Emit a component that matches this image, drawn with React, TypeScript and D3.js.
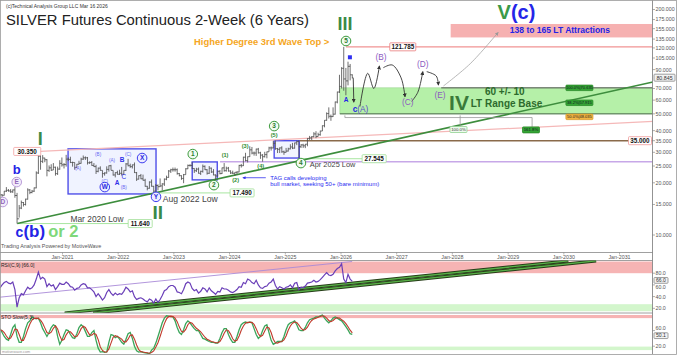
import React from "react";
import * as d3 from "d3";

// ---------------- data ----------------
const seriesStart = new Date(2019, 10, 18); // first 2-week bar
const firstOpen = 17.1;

const barHigh = [
  17.25, 17.2, 17.95, 18.9, 18.4, 18.4, 18.3, 18.9, 17.5, 14.9,
  15.8, 15.5, 16.2, 18.6, 18.4, 18.2, 18.8, 23.3, 30.35, 28.9,
  28.9, 27.9, 27.4, 25.2, 25.6, 26.0, 24.8, 24.8, 27.0, 28.0,
  26.0, 29.0, 28.0, 28.3, 26.5, 26.2, 25.7, 26.8, 27.9, 28.75,
  28.4, 28.2, 26.6, 26.7, 26.0, 25.4, 24.5, 24.9, 23.6, 23.0,
  24.9, 25.2, 25.4, 23.6, 23.0, 23.5, 23.8, 24.7, 23.6, 26.0,
  27.5, 25.8, 25.5, 26.2, 23.1, 22.1, 22.5, 22.3, 21.1, 19.2,
  20.4, 20.9, 19.2, 19.7, 19.6, 21.2, 19.9, 21.2, 22.0, 23.7,
  24.1, 24.5, 24.5, 24.2, 22.8, 22.1, 22.5, 24.3, 25.5, 25.6,
  26.4, 24.3, 24.4, 24.5, 23.5, 25.5, 25.2, 24.0, 25.0, 24.5,
  24.0, 22.4, 23.6, 23.7, 24.5, 26.0, 24.8, 24.7, 23.6, 23.5,
  23.0, 23.3, 25.4, 25.7, 28.3, 29.8, 28.4, 32.5, 32.2, 30.3,
  31.5, 31.8, 30.2, 29.3, 30.2, 30.3, 32.3, 32.4, 34.9, 35.1,
  31.8, 32.0, 32.5, 30.7, 31.8, 31.9, 33.4, 34.0, 34.1, 35.1,
  35.2, 33.4, 33.6, 33.5, 36.2, 37.3, 37.2, 39.2, 39.7, 38.9,
  40.0, 42.9, 46.0, 51.0, 54.5, 49.5, 54.5, 58.9, 67.2, 84.0,
  93.0, 121.785, 92.0, 100.0, 97.0, 84.5,
];
const barLow = [
  16.85, 16.6, 16.9, 17.7, 17.8, 17.5, 17.5, 16.4, 11.64, 12.6,
  14.1, 14.6, 14.8, 16.0, 17.2, 17.4, 17.7, 18.6, 22.5, 23.8,
  26.0, 26.3, 21.8, 23.1, 23.4, 23.7, 22.0, 22.2, 23.8, 24.8,
  24.2, 24.8, 26.7, 26.0, 24.8, 23.8, 24.4, 25.5, 25.8, 27.1,
  27.1, 25.5, 25.7, 25.1, 24.7, 22.5, 23.0, 23.5, 21.4, 22.0,
  22.6, 23.2, 23.6, 22.0, 21.5, 22.3, 22.2, 22.0, 22.2, 23.4,
  24.9, 24.4, 24.2, 22.8, 20.5, 20.9, 21.0, 20.6, 19.0, 18.1,
  18.5, 19.0, 17.49, 17.7, 18.1, 18.9, 18.1, 19.2, 20.7, 21.4,
  22.8, 23.2, 23.2, 22.3, 21.8, 20.8, 19.9, 22.3, 24.0, 24.8,
  24.0, 22.8, 23.1, 22.6, 22.2, 22.9, 23.7, 22.3, 22.5, 22.8,
  22.1, 20.7, 21.7, 22.4, 22.5, 23.2, 23.2, 23.2, 22.5, 22.5,
  21.9, 22.4, 23.0, 24.5, 25.0, 26.6, 26.2, 28.2, 29.2, 28.7,
  28.6, 29.5, 27.5, 26.5, 28.0, 27.7, 30.2, 30.7, 31.6, 31.0,
  29.7, 29.7, 29.8, 29.0, 29.9, 30.3, 31.2, 31.3, 31.5, 33.0,
  27.545, 31.8, 31.8, 31.7, 32.5, 35.4, 35.3, 36.6, 36.2, 37.0,
  37.4, 39.8, 41.8, 45.6, 47.0, 45.6, 48.0, 49.5, 57.5, 66.0,
  70.0, 68.0, 64.0, 73.0, 78.0, 80.0,
];
const barClose = [
  17.05, 16.95, 17.9, 18.1, 17.95, 17.75, 18.2, 16.9, 12.4, 14.3,
  15.4, 15.0, 16.1, 18.2, 17.6, 17.9, 18.7, 22.8, 28.5, 26.6,
  27.8, 27.2, 23.6, 24.4, 23.7, 24.6, 22.6, 24.0, 25.9, 25.4,
  25.5, 27.4, 27.3, 26.2, 26.2, 24.5, 25.6, 25.9, 27.4, 27.9,
  27.9, 26.1, 26.2, 25.2, 24.8, 23.3, 24.3, 23.6, 22.6, 22.8,
  23.9, 25.1, 23.6, 22.2, 22.9, 22.4, 22.7, 22.4, 23.6, 25.7,
  25.1, 24.8, 25.4, 22.9, 21.0, 22.0, 21.1, 20.7, 19.1, 18.6,
  20.2, 19.1, 17.9, 19.3, 19.0, 19.2, 19.7, 21.0, 21.5, 23.4,
  23.8, 23.8, 23.8, 22.6, 22.0, 21.2, 22.3, 24.1, 25.2, 25.2,
  24.2, 23.5, 24.0, 22.7, 23.3, 24.9, 23.8, 22.7, 24.3, 23.1,
  22.2, 21.9, 23.3, 22.6, 24.4, 23.5, 24.3, 23.4, 22.8, 22.7,
  23.0, 23.1, 25.2, 25.1, 28.1, 26.9, 28.3, 31.0, 29.7, 29.7,
  31.3, 29.8, 28.9, 28.3, 29.1, 30.2, 31.8, 31.8, 33.8, 31.5,
  31.2, 31.8, 30.2, 30.0, 30.5, 31.4, 32.2, 31.7, 34.0, 34.6,
  32.3, 33.1, 32.7, 33.4, 36.0, 36.3, 36.9, 38.3, 37.0, 37.9,
  39.8, 42.7, 45.9, 50.2, 48.4, 48.2, 49.8, 58.5, 66.8, 72.0,
  91.5, 79.5, 77.5, 94.0, 84.0, 80.845,
];
const rsiValues = [
  55, 60, 64, 66, 63, 62, 65, 52, 22, 38,
  45, 43, 50, 56, 53, 55, 60, 70, 82, 70,
  73, 70, 57, 62, 58, 60, 52, 57, 63, 61,
  61, 65, 62, 57, 56, 51, 54, 55, 60, 62,
  61, 55, 55, 52, 48, 40, 45, 40, 34, 38,
  47, 52, 46, 42, 46, 43, 45, 44, 49, 56,
  53, 48, 50, 40, 35, 37, 38, 36, 33, 31,
  36, 34, 29, 36, 30, 35, 42, 50, 52, 57,
  59, 59, 56, 48, 47, 45, 52, 62, 65, 63,
  54, 50, 52, 46, 49, 55, 53, 48, 55, 50,
  47, 44, 49, 48, 55, 53, 53, 51, 48, 47,
  49, 52, 57, 56, 64, 62, 70, 68, 64, 62,
  68, 60, 55, 54, 57, 58, 63, 65, 70, 59,
  53, 57, 55, 53, 56, 57, 60, 55, 63, 64,
  52, 56, 55, 58, 63, 64, 65, 68, 65, 66,
  69, 73, 77, 81, 77, 76, 78, 84, 88, 90,
  96, 70, 64, 78, 70, 66,
];
const stoK = [
  65, 55, 45, 38, 35, 50, 68, 75, 45, 30,
  30, 45, 65, 80, 85, 95, 92, 90, 92, 80,
  65, 55, 45, 55, 68, 75, 72, 45, 25, 35,
  50, 62, 60, 50, 42, 40, 52, 68, 75, 70,
  58, 45, 45, 55, 60, 35, 15, 5, 6, 4,
  5, 30, 50, 48, 42, 45, 38, 30, 25, 38,
  52, 55, 40, 20, 8, 5, 6, 4, 3, 2,
  0, 10, 15, 28, 45, 62, 80, 92, 98, 97,
  96, 95, 85, 68, 55, 50, 62, 78, 85, 80,
  72, 65, 60, 60, 50, 40, 38, 35, 32, 30,
  30, 28, 28, 40, 55, 65, 65, 50, 38, 30,
  30, 45, 62, 75, 80, 82, 80, 82, 80, 65,
  50, 40, 45, 60, 72, 75, 55, 35, 25, 28,
  32, 32, 32, 45, 62, 75, 80, 82, 85, 75,
  62, 60, 60, 68, 80, 88, 90, 92, 95, 95,
  98, 100, 92, 85, 80, 85, 92, 95, 92, 88,
  85, 78, 70, 62, 52, 50.1,
];
const stoD = [
  62, 60, 55, 46, 39, 41, 51, 64, 63, 50,
  35, 35, 47, 63, 77, 87, 91, 92, 91, 87,
  79, 67, 55, 52, 56, 66, 72, 64, 47, 35,
  37, 49, 57, 57, 51, 44, 45, 53, 65, 71,
  68, 58, 49, 48, 53, 50, 37, 18, 9, 5,
  5, 13, 28, 43, 47, 45, 42, 38, 31, 31,
  38, 48, 49, 38, 23, 11, 6, 5, 4, 3,
  2, 4, 8, 18, 29, 45, 62, 78, 90, 96,
  97, 96, 92, 83, 69, 58, 56, 63, 75, 81,
  79, 72, 66, 62, 57, 50, 43, 38, 35, 32,
  31, 29, 29, 32, 41, 53, 62, 60, 51, 39,
  33, 35, 46, 61, 72, 79, 81, 81, 81, 76,
  65, 52, 45, 48, 59, 69, 67, 55, 38, 29,
  28, 31, 32, 36, 46, 61, 72, 79, 82, 81,
  74, 66, 61, 63, 69, 79, 86, 90, 92, 94,
  96, 98, 97, 92, 86, 83, 86, 91, 93, 92,
  88, 84, 78, 70, 61, 54,
];

const priceTicks = [200, 175, 155, 135, 120, 105, 90, 70, 60, 50, 40, 35, 30, 25, 20, 15, 10];
const yearTicks = [2021, 2022, 2023, 2024, 2025, 2026, 2027, 2028, 2029, 2030, 2031];
const rsiTicks = [80, 60, 40, 20];
const stoTicks = [60, 20];
const lastPrice = 80.845;
const lastRsi = 66.0;
const lastSto = 50.1;

// key levels (decimal year, price)
const keyLows = [
  { label: "11.640", price: 11.64, from: 2020.19, to: 2022.18 },
  { label: "17.490", price: 17.49, from: 2022.67, to: 2024.01 },
  { label: "27.545", price: 27.545, from: 2025.26, to: 2026.38 },
];
const waveBoxes = [
  { from: 2021.1, to: 2022.68, hi: 31.4, lo: 17.25 },
  { from: 2023.33, to: 2023.78, hi: 26.4, lo: 20.8 },
  { from: 2024.8, to: 2025.25, hi: 35.0, lo: 27.8 },
];
const greenTrend = [[2020.19, 11.64], [2031.6, 76.3]];
const pinkTrend = [[2020.6, 30.35], [2031.6, 45.2]];
const rsiTrendPurple = [[2019.88, 39], [2026.2, 100]];
const rsiTrendGreen1 = [[2021.04, 12], [2030.08, 101]];
const rsiTrendGreen2 = [[2021.55, 12], [2030.58, 101]];
const squiggles = [
  [[2026.34, 55.1], [2026.48, 85.7], [2026.59, 70.0], [2026.69, 94.4]],
  [[2026.76, 92.3], [2026.92, 95.7], [2027.08, 80.6], [2027.15, 62.7]],
  [[2027.27, 59.0], [2027.38, 66.6], [2027.47, 87.6]],
  [[2027.54, 87.6], [2027.71, 82.7], [2027.75, 73.4]],
];
const arrowToCA = [[2026.22, 80.4], [2026.23, 58.4]];
const grayPath = [[2027.84, 72.4], [2028.32, 97.3], [2028.82, 147.5]];

const FONT = "'Liberation Sans', Arial, Helvetica, sans-serif";

type Pal = "g" | "b" | "p";
const PAL: Record<Pal, string[]> = {
  g: ["#3d9a3d", "#f1fbf1", "#2e7d32"],
  b: ["#3b3bf0", "#ececff", "#2727e0"],
  p: ["#b89bd8", "#f3ecfa", "#9166bb"],
};

function Circ({ cx, cy, t, c }: { cx: number; cy: number; t: string; c: Pal }) {
  const p = PAL[c];
  return (
    <g>
      <circle cx={cx} cy={cy} r={4.8} fill={p[1]} stroke={p[0]} strokeWidth={1} />
      <text x={cx} y={cy} dy="0.36em" textAnchor="middle" fontSize={6.5} fontWeight="bold" fill={p[2]} fontFamily={FONT}>{t}</text>
    </g>
  );
}

function LBox({ cx, cy, text, stroke, w = 24, fill = "#fff", color = "#111", fs = 6.3, h = 8, bold = true }: any) {
  return (
    <g>
      <rect x={cx - w / 2} y={cy - h / 2} width={w} height={h} fill={fill} stroke={stroke} strokeWidth={0.8} rx={0.8} />
      <text x={cx} y={cy} dy="0.36em" textAnchor="middle" fontSize={fs} fontWeight={bold ? "bold" : "normal"} fill={color} fontFamily={FONT}>{text}</text>
    </g>
  );
}

export default function App() {
  const W = 680, H = 357;
  const AX = 652.5;
  const MAIN_B = 252.5, RSI_T = 260.5, RSI_B = 313, STO_B = 354;

  const x = d3.scaleTime().domain([new Date(2021, 0, 1), new Date(2031, 0, 1)]).range([62.5, 619.5]);
  const y = d3.scaleLog().domain([10, 200]).range([235, 9.5]);
  const yR = d3.scaleLinear().domain([0, 100]).range([320, 261.5]);
  const yS = d3.scaleLinear().domain([0, 100]).range([354, 315]);
  const yd = (v: number) => {
    const yr = Math.floor(v);
    const a = new Date(yr, 0, 1).getTime();
    const b = new Date(yr + 1, 0, 1).getTime();
    return new Date(a + (v - yr) * (b - a));
  };
  const X = (v: number) => x(yd(v));
  const barDates = barClose.map((_, i) => d3.timeDay.offset(seriesStart, 14 * i));
  const bx = (i: number) => x(barDates[i]);

  let barsD = "";
  barClose.forEach((c, i) => {
    const xi = bx(i);
    const o = i === 0 ? firstOpen : barClose[i - 1];
    barsD += `M${xi},${y(barHigh[i])}V${y(barLow[i])}M${xi - 1.1},${y(o)}H${xi}M${xi},${y(c)}H${xi + 1.1}`;
  });

  const pricePt = (p: number[]) => [X(p[0]), y(p[1])] as [number, number];
  const rsiPt = (p: number[]) => [X(p[0]), yR(p[1])] as [number, number];
  const lineStraight = d3.line();
  const lineCurve = d3.line().curve(d3.curveCatmullRom.alpha(0.5));

  const rsiPath = d3.line<number>().x((_, i) => bx(i)).y((v) => yR(v))(rsiValues) || "";
  const kPath = d3.line<number>().x((_, i) => bx(i)).y((v) => yS(v))(stoK) || "";
  const dPath = d3.line<number>().x((_, i) => bx(i)).y((v) => yS(v))(stoD) || "";

  const fmt3 = d3.format(".3f");
  const fmt1 = d3.format(".1f");

  const tx = (yr: number, price: number, content: any, props: any = {}) => (
    <text x={X(yr)} y={y(price)} dy="0.36em" fontFamily={FONT} {...props}>{content}</text>
  );
  const circ = (yr: number, price: number, t: string, c: Pal) => <Circ cx={X(yr)} cy={y(price)} t={t} c={c} />;

  const smallBlue = { fontSize: 4.6, fill: "#6a6af2", textAnchor: "middle" };
  const smallGreen = { fontSize: 5.6, fill: "#2e8b2e", fontWeight: "bold", textAnchor: "middle" };
  const purple = { fontSize: 8.3, fill: "#8c5bbf", textAnchor: "middle" };

  const bandL = X(2025.98);
  const pinkL = X(2027.97);

  const rsiLabelShift: Record<number, number> = { 60: 2.2 };
  const stoLabelShift: Record<number, number> = { 60: -2.2 };

  return (
    <svg width={W} height={H} viewBox={`0 0 ${W} ${H}`} style={{ position: "absolute", left: 0, top: 0, background: "#fff" }}>
      <defs>
        <clipPath id="cMain"><rect x={0} y={0} width={AX} height={MAIN_B} /></clipPath>
        <clipPath id="cRsi"><rect x={0} y={RSI_T} width={AX} height={RSI_B - RSI_T} /></clipPath>
        <clipPath id="cSto"><rect x={0} y={RSI_B} width={AX} height={STO_B - RSI_B} /></clipPath>
        <marker id="ahK" viewBox="0 0 6 6" refX="5" refY="3" markerWidth="4.5" markerHeight="4.5" orient="auto">
          <path d="M0,0L6,3L0,6z" fill="#333" />
        </marker>
        <marker id="ahG" viewBox="0 0 6 6" refX="5" refY="3" markerWidth="4.5" markerHeight="4.5" orient="auto">
          <path d="M0,0L6,3L0,6z" fill="#999" />
        </marker>
        <marker id="ahB" viewBox="0 0 6 6" refX="5" refY="3" markerWidth="4" markerHeight="4" orient="auto">
          <path d="M0,0L6,3L0,6z" fill="#3333ee" />
        </marker>
      </defs>

      <rect x={0} y={0} width={W} height={H} fill="#fff" />

      {/* ---------- MAIN PANEL ---------- */}
      <g clipPath="url(#cMain)">
        <rect x={pinkL} y={y(165)} width={AX - pinkL} height={y(138) - y(165)} fill="#f6b1b1" />
        <rect x={bandL} y={y(70.635)} width={AX - bandL} height={y(50) - y(70.635)} fill="#b5f0a8" stroke="#9ad48f" strokeWidth={0.6} />
        <line x1={X(2027.8)} x2={AX} y1={y(70.635)} y2={y(70.635)} stroke="#555" strokeWidth={1} />
        <line x1={bandL} x2={AX} y1={y(50)} y2={y(50)} stroke="#4e6e4e" strokeWidth={1} />

        {waveBoxes.map((b, i) => (
          <rect key={i} x={X(b.from)} y={y(b.hi)} width={X(b.to) - X(b.from)} height={y(b.lo) - y(b.hi)}
            fill={i === 0 ? "#eef2ff" : "#e9eeff"} fillOpacity={i === 0 ? 0.9 : 0.6} stroke="#4f4fe8" strokeWidth={1.4} />
        ))}

        <line x1={X(2026.09)} x2={AX} y1={y(121.785)} y2={y(121.785)} stroke="#f19393" strokeWidth={1.4} />
        <line x1={X(2025.26)} x2={AX} y1={y(35)} y2={y(35)} stroke="#8a6a4a" strokeWidth={1.6} />
        <line x1={X(2023.83)} x2={AX} y1={y(26.45)} y2={y(26.45)} stroke="#c7a8e8" strokeWidth={1.5} />
        {keyLows.map((k, i) => (
          <line key={i} x1={X(k.from)} x2={X(k.to)} y1={y(k.price)} y2={y(k.price)} stroke="#a8e6a0" strokeWidth={1} />
        ))}

        <path d={lineStraight(pinkTrend.map(pricePt)) || ""} stroke="#f5b8b8" strokeWidth={1.2} fill="none" />
        <path d={lineStraight(greenTrend.map(pricePt)) || ""} stroke="#3d8d3d" strokeWidth={1.6} fill="none" />

        <path d={`M${X(2026.07)},${y(49)}V${y(47.6)}H${X(2029.43)}V${y(42)}`} stroke="#999" strokeWidth={0.8} fill="none" />
        <path d={`M${X(2028.14)},${y(49)}V${y(42)}`} stroke="#999" strokeWidth={0.8} fill="none" />

        <path d={barsD} stroke="#4a4a4a" strokeWidth={0.8} fill="none" />

        <path d={lineStraight(arrowToCA.map(pricePt)) || ""} stroke="#333" strokeWidth={0.9} fill="none" markerEnd="url(#ahK)" />
        {squiggles.map((s, i) => (
          <path key={i} d={lineCurve(s.map(pricePt)) || ""} stroke="#333" strokeWidth={0.9} fill="none" markerEnd="url(#ahK)" />
        ))}
        <path d={lineCurve(grayPath.map(pricePt)) || ""} stroke="#a5a5a5" strokeWidth={0.8} fill="none" markerEnd="url(#ahG)" />
        <path d={`M${X(2024.65)},${y(21.4)}H${X(2024.24)}`} stroke="#3333ee" strokeWidth={0.8} fill="none" markerEnd="url(#ahB)" />
      </g>

      {/* ---------- MAIN TEXT / LABELS ---------- */}
      <text x={6} y={7.5} fontSize={5} fill="#333" fontFamily={FONT}>(c)Technical Analysis Group LLC Mar 16 2026</text>
      <text x={6} y={25} fontSize={14.8} fill="#222" fontFamily={FONT}>SILVER Futures Continuous 2-Week (6 Years)</text>
      <text x={X(2025.79)} y={y(125.5)} textAnchor="end" fontSize={9.4} fontWeight="bold" fill="#f5a623" fontFamily={FONT}>Higher Degree 3rd Wave Top &gt;</text>

      {tx(2020.6, 36.1, "I", { fontSize: 18, fontWeight: "bold", fill: "#3a8a48", textAnchor: "middle" })}
      {tx(2022.71, 13.6, "II", { fontSize: 19, fontWeight: "bold", fill: "#3a8a48", textAnchor: "middle" })}
      {tx(2026.07, 166, "III", { fontSize: 18, fontWeight: "bold", fill: "#3a8a48", textAnchor: "middle" })}
      {tx(2028.12, 58.3, "IV", { fontSize: 21, fontWeight: "bold", fill: "#3a7a3a", textAnchor: "middle" })}
      <text x={X(2028.81)} y={y(194)} dy="0.36em" fontSize={20} fontWeight="bold" fontFamily={FONT}>
        <tspan fill="#3a9a48">V</tspan><tspan fill="#2525e8">(c)</tspan>
      </text>
      {tx(2029.93, 152.4, "138 to 165 LT Attractions", { fontSize: 8.5, fontWeight: "bold", fill: "#2323e6", textAnchor: "middle" })}
      {tx(2028.94, 67.3, "60 +/- 10", { fontSize: 10, fontWeight: "bold", fill: "#2d6a2d", textAnchor: "middle" })}
      {tx(2028.33, 57.2, "LT Range Base", { fontSize: 10, fontWeight: "bold", fill: "#2d6a2d" })}

      <LBox cx={X(2020.61) - 13.5} cy={y(30.35)} text="30.350" stroke="#f2a0a0" w={27} />
      {tx(2020.18, 23.9, "b", { fontSize: 13, fontWeight: "bold", fill: "#2424e6", textAnchor: "middle" })}
      {circ(2020.18, 20.2, "E", "p")}
      {circ(2019.93, 15.5, "D", "p")}
      <text x={X(2020.16)} y={y(9.74)} fontWeight="bold" fontFamily={FONT}>
        <tspan fill="#2424e6" fontSize={14}>c</tspan>
        <tspan fill="#2424e6" fontSize={17}>(b)</tspan>
        <tspan fill="#7fd87a" fontSize={16.5} dx={3}>or 2</tspan>
      </text>
      <text x={1} y={247.5} fontSize={5.4} fill="#555" fontFamily={FONT}>Trading Analysis Powered by MotiveWave</text>
      {tx(2021.62, 12.4, "Mar 2020 Low", { fontSize: 8.4, fill: "#444", textAnchor: "middle" })}
      {tx(2022.8, 16.1, "Aug 2022 Low", { fontSize: 8.6, fill: "#444" })}
      {tx(2025.44, 25.4, "Apr 2025 Low", { fontSize: 7.4, fill: "#444" })}
      {keyLows.map((k, i) => (
        <LBox key={i} cx={X(k.to) + 12} cy={y(k.price)} text={k.label} stroke="#9ede94" />
      ))}

      {tx(2021.28, 24.3, "(A)", smallBlue)}
      {tx(2021.64, 29.3, "(B)", smallBlue)}
      {tx(2021.76, 20.5, "(C)", smallBlue)}
      {tx(2021.89, 27.1, "(A)", smallBlue)}
      {tx(2022.1, 18.9, "(B)", smallBlue)}
      {tx(2022.18, 29.3, "(C)", smallBlue)}
      {tx(2021.98, 20.0, "A", { fontSize: 6.5, fontWeight: "bold", fill: "#3030e8", textAnchor: "middle" })}
      {tx(2022.07, 27.1, "B", { fontSize: 6.5, fontWeight: "bold", fill: "#3030e8", textAnchor: "middle" })}
      {tx(2022.1, 21.6, "C", { fontSize: 6.5, fill: "#3030e8", textAnchor: "middle" })}
      {circ(2021.76, 18.9, "W", "b")}
      {circ(2022.43, 27.8, "X", "b")}
      {circ(2022.68, 16.6, "Y", "b")}

      {circ(2023.34, 29.3, "1", "g")}
      {circ(2023.72, 19.4, "2", "g")}
      {circ(2024.8, 42.5, "3", "g")}
      {circ(2025.28, 26.0, "4", "g")}
      {circ(2026.09, 131.6, "5", "g")}
      {tx(2023.92, 28.9, "(1)", smallGreen)}
      {tx(2024.11, 20.8, "(2)", smallGreen)}
      {tx(2024.28, 32.6, "(3)", smallGreen)}
      {tx(2024.56, 25.0, "(4)", smallGreen)}
      {tx(2024.8, 37.8, "(5)", smallGreen)}
      {tx(2024.73, 21.5, "TAG calls developing", { fontSize: 6, fill: "#2b2bf0" })}
      {tx(2024.73, 19.8, "bull market, seeking 50+ (bare minimum)", { fontSize: 6, fill: "#2b2bf0" })}

      <LBox cx={X(2027.11)} cy={y(121.785)} text="121.785" stroke="#ea7b7b" w={26} />
      {tx(2026.09, 60.1, "A", { fontSize: 6.5, fontWeight: "bold", fill: "#2424e6", textAnchor: "middle" })}
      <rect x={X(2026.16) - 2} y={y(106) - 2} width={4} height={4} fill="#3030f0" />
      <text x={X(2026.21)} y={y(53.3)} dy="0.36em" fontSize={8.3} fontFamily={FONT}>
        <tspan fill="#2424e6" fontWeight="bold">c</tspan><tspan fill="#5a4ac8">(A)</tspan>
      </text>
      {tx(2026.72, 106, "(B)", purple)}
      {tx(2027.2, 58.5, "(C)", purple)}
      {tx(2027.47, 97.3, "(D)", purple)}
      {tx(2027.78, 64.3, "(E)", purple)}

      <LBox cx={X(2028.11)} cy={y(40.6)} text="100.0%" stroke="#8fcf8f" fill="#eefbee" w={17} h={6} fs={4.3} bold={false} color="#333" />
      <LBox cx={X(2029.41)} cy={y(40.4)} text="161.8%" stroke="#2a8a2a" fill="#35a535" w={17} h={6} fs={4.3} bold={false} color="#112" />
      <LBox cx={X(2030.28)} cy={y(70.635)} text="100.0%|70.635" stroke="#2a8a2a" fill="#35a535" w={27} h={5.5} fs={4} bold={false} color="#112" />
      <LBox cx={X(2030.28)} cy={y(57.915)} text="38.2%|57.915" stroke="#2a8a2a" fill="#35a535" w={27} h={5.5} fs={4} bold={false} color="#112" />
      <LBox cx={X(2030.28)} cy={y(48.035)} text="50.0%|48.035" stroke="#d99a2a" fill="#f2b543" w={27} h={5.5} fs={4} bold={false} color="#222" />
      <LBox cx={AX - 12.5} cy={y(35)} text="35.000" stroke="#ee9a9a" w={23} />

      {/* ---------- MAIN AXES ---------- */}
      <line x1={0} x2={AX} y1={MAIN_B} y2={MAIN_B} stroke="#888" strokeWidth={0.8} />
      {yearTicks.map((t) => {
        const xx = x(new Date(t, 0, 1));
        return (
          <g key={t}>
            <line x1={xx} x2={xx} y1={MAIN_B} y2={MAIN_B + 2} stroke="#888" strokeWidth={0.6} />
            <text x={xx} y={258.6} textAnchor="middle" fontSize={5.3} fill="#555" fontFamily={FONT}>{`Jan-${t}`}</text>
          </g>
        );
      })}
      {priceTicks.map((p) => (
        <g key={p}>
          <line x1={AX} x2={AX + 2.5} y1={y(p)} y2={y(p)} stroke="#777" strokeWidth={0.6} />
          <text x={AX + 3} y={y(p)} dy="0.36em" fontSize={5.3} fill="#555" fontFamily={FONT}>{fmt3(p)}</text>
        </g>
      ))}
      <LBox cx={AX + 12} cy={y(lastPrice)} text={fmt3(lastPrice)} stroke="#888" fill="#f2f2f2" w={21} h={7} fs={5.3} bold={false} color="#333" />

      {/* ---------- RSI PANEL ---------- */}
      <line x1={0} x2={AX} y1={RSI_T} y2={RSI_T} stroke="#888" strokeWidth={0.8} />
      <g clipPath="url(#cRsi)">
        <rect x={0} y={yR(100)} width={AX} height={yR(80) - yR(100)} fill="#f6b4b4" />
        <rect x={0} y={yR(27)} width={AX} height={yR(15) - yR(27)} fill="#d3f6cc" />
        <path d={lineStraight(rsiTrendPurple.map(rsiPt)) || ""} stroke="#a98ad8" strokeWidth={0.9} fill="none" />
        {[rsiTrendGreen1, rsiTrendGreen2].map((l, i) => (
          <g key={i}>
            <path d={lineStraight(l.map(rsiPt)) || ""} stroke="#263d18" strokeWidth={3.2} fill="none" />
            <path d={lineStraight(l.map(rsiPt)) || ""} stroke="#58b048" strokeWidth={1.4} fill="none" />
          </g>
        ))}
        <path d={rsiPath} stroke="#6a3fb8" strokeWidth={1.2} fill="none" />
      </g>
      <text x={1} y={267} fontSize={5} fill="#222" fontFamily={FONT}>RSI(C,9) [66.0]</text>
      {rsiTicks.map((t) => (
        <g key={t}>
          <line x1={AX} x2={AX + 2.5} y1={yR(t)} y2={yR(t)} stroke="#777" strokeWidth={0.6} />
          <text x={AX + 3} y={yR(t) + (rsiLabelShift[t] || 0)} dy="0.36em" fontSize={5.3} fill="#555" fontFamily={FONT}>{fmt1(t)}</text>
        </g>
      ))}
      <LBox cx={AX + 8.5} cy={yR(lastRsi) - 1} text={fmt1(lastRsi)} stroke="#888" fill="#f2f2f2" w={14} h={5.8} fs={5.1} bold={false} color="#333" />

      {/* ---------- STO PANEL ---------- */}
      <line x1={0} x2={AX} y1={RSI_B} y2={RSI_B} stroke="#888" strokeWidth={0.8} />
      <g clipPath="url(#cSto)">
        <rect x={0} y={yS(100)} width={AX} height={yS(92) - yS(100)} fill="#f6b4b4" />
        <rect x={0} y={yS(19)} width={AX} height={yS(10) - yS(19)} fill="#d3f6cc" />
        <path d={kPath} stroke="#3aa55a" strokeWidth={1.3} fill="none" />
        <path d={dPath} stroke="#c0392b" strokeWidth={1.1} fill="none" />
      </g>
      <text x={1} y={319} fontSize={5} fill="#222" fontFamily={FONT}>STO Slow(5,3)</text>
      <text x={2} y={352.5} fontSize={3.8} fill="#999" fontFamily={FONT}>motivewave.com</text>
      {stoTicks.map((t) => (
        <g key={t}>
          <line x1={AX} x2={AX + 2.5} y1={yS(t)} y2={yS(t)} stroke="#777" strokeWidth={0.6} />
          <text x={AX + 3} y={yS(t) + (stoLabelShift[t] || 0)} dy="0.36em" fontSize={5.3} fill="#555" fontFamily={FONT}>{fmt1(t)}</text>
        </g>
      ))}
      <LBox cx={AX + 8.5} cy={yS(lastSto) + 1.2} text={fmt1(lastSto)} stroke="#888" fill="#f2f2f2" w={14} h={5.8} fs={5.1} bold={false} color="#333" />

      {/* frame */}
      <line x1={AX} x2={AX} y1={0} y2={STO_B} stroke="#777" strokeWidth={0.8} />
      <rect x={0.5} y={0.5} width={676} height={STO_B} fill="none" stroke="#999" strokeWidth={0.8} />
    </svg>
  );
}
